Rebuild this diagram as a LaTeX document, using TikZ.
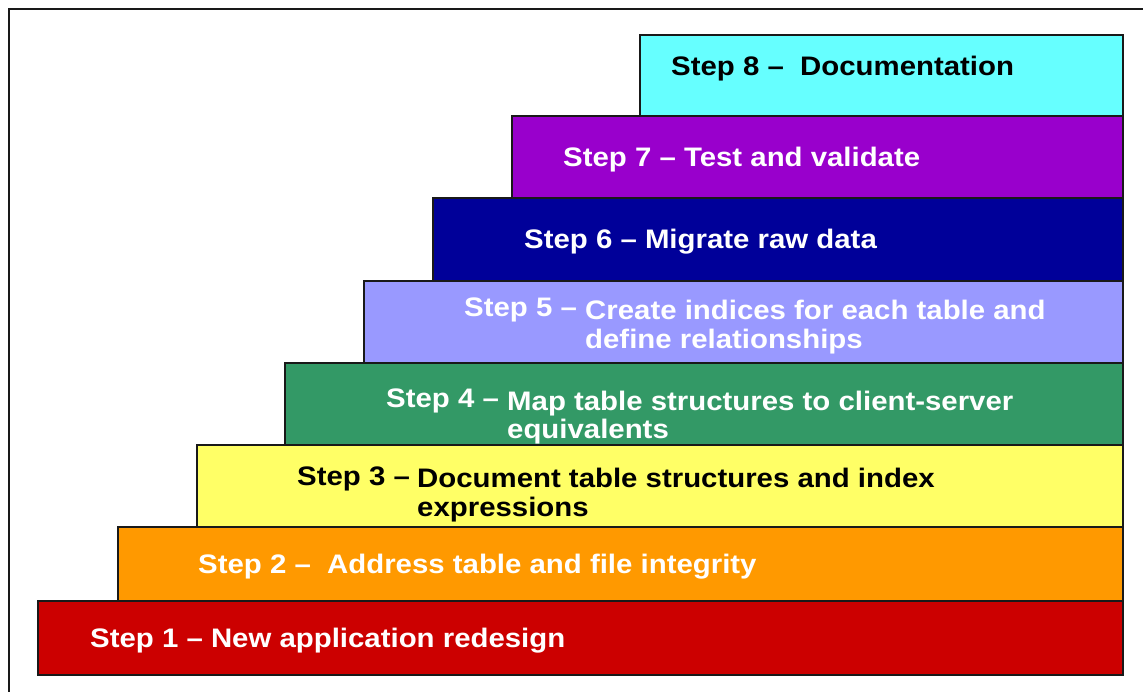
\documentclass[tikz,border=0pt]{standalone}
\usepackage{fontspec}
\usepackage{graphicx}
\setmainfont{Liberation Sans}
\definecolor{c8}{HTML}{66FFFF}
\definecolor{c7}{HTML}{9900CC}
\definecolor{c6}{HTML}{000099}
\definecolor{c5}{HTML}{9999FF}
\definecolor{c4}{HTML}{339966}
\definecolor{c3}{HTML}{FFFF66}
\definecolor{c2}{HTML}{FF9900}
\definecolor{c1}{HTML}{CC0000}
\newcommand{\stx}[1]{\scalebox{1.13}[1.03]{\fontsize{26}{30}\selectfont\bfseries #1}}
\begin{document}
\begin{tikzpicture}[x=1pt,y=-1pt,
  stepbox/.style={draw=black!90,line width=1.6pt,rectangle,inner sep=0pt,anchor=north west},
  lbl/.style={anchor=base west,inner sep=0pt,text=white},
  lblk/.style={anchor=base west,inner sep=0pt,text=black}]
\useasboundingbox (0,0) rectangle (1143,692);
\fill[white] (0,0) rectangle (1143,692);
\draw[line width=1.5pt,black!90] (9,692) -- (9,9) -- (1143,9);
% boxes
\node (b1) [stepbox,fill=c1,minimum width=1085pt,minimum height=74pt] at (37,600) {};
\node (b2) [stepbox,fill=c2,minimum width=1005pt,minimum height=74pt] at (117,526) {};
\node (b3) [stepbox,fill=c3,minimum width=926pt,minimum height=82pt] at (196,444) {};
\node (b4) [stepbox,fill=c4,minimum width=838pt,minimum height=82pt] at (284,362) {};
\node (b5) [stepbox,fill=c5,minimum width=759pt,minimum height=82pt] at (363,280) {};
\node (b6) [stepbox,fill=c6,minimum width=690pt,minimum height=83pt] at (432,197) {};
\node (b7) [stepbox,fill=c7,minimum width=611pt,minimum height=82pt] at (511,115) {};
\node (b8) [stepbox,fill=c8,minimum width=483pt,minimum height=81pt] at (639,34) {};
% labels
\node (t8) [lblk] at (671,76) {\stx{Step 8 --\ \ Documentation}};
\node (t7) [lbl] at (563,167) {\stx{Step 7 -- Test and validate}};
\node (t6) [lbl] at (524,249) {\stx{Step 6 -- Migrate raw data}};
\node (t5a) [lbl] at (464,317) {\stx{Step 5 --}};
\node (t5b) [lbl] at (585,320) {\stx{Create indices for each table and}};
\node (t5c) [lbl] at (585,349) {\stx{define relationships}};
\node (t4a) [lbl] at (386,407) {\stx{Step 4 --}};
\node (t4b) [lbl] at (507,410) {\stx{Map table structures to client-server}};
\node (t4c) [lbl] at (507,438) {\stx{equivalents}};
\node (t3a) [lblk] at (297,485) {\stx{Step 3 --}};
\node (t3b) [lblk] at (417,487) {\stx{Document table structures and index}};
\node (t3c) [lblk] at (417,516) {\stx{expressions}};
\node (t2) [lbl] at (198,573) {\stx{Step 2 --\ \ Address table and file integrity}};
\node (t1) [lbl] at (90,647) {\stx{Step 1 -- New application redesign}};
\end{tikzpicture}
\end{document}
